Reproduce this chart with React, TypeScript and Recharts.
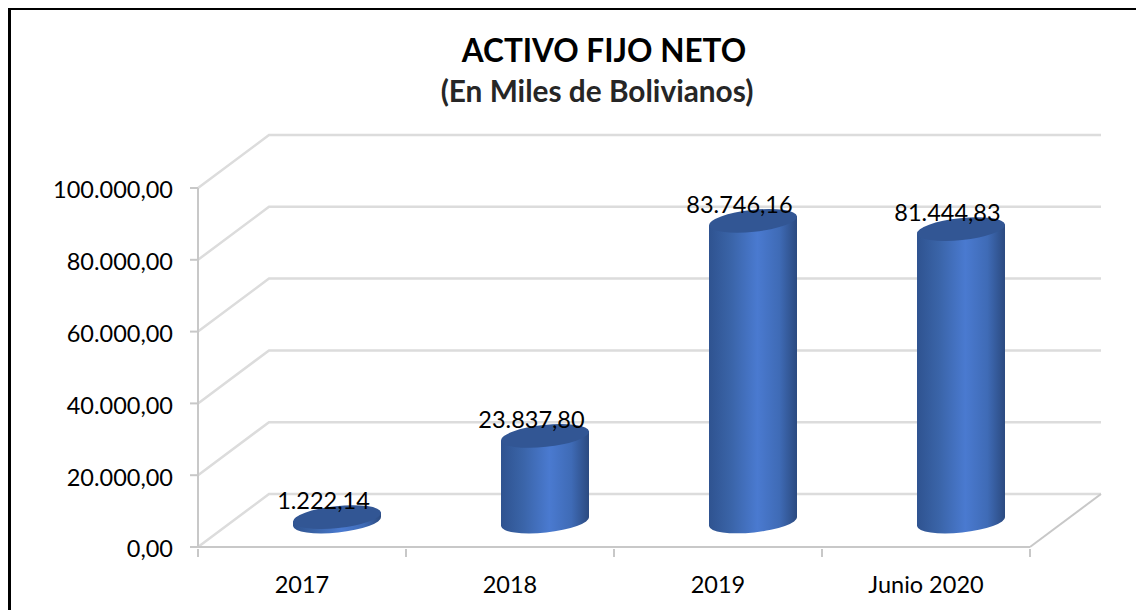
import { ComposedChart, Bar, XAxis, YAxis, CartesianGrid, LabelList } from 'recharts';

const categories = ['2017', '2018', '2019', 'Junio 2020'];
const values = [1222.14, 23837.8, 83746.16, 81444.83];
const valueLabels = ['1.222,14', '23.837,80', '83.746,16', '81.444,83'];
const yTicks = [0, 20000, 40000, 60000, 80000, 100000];
const yTickLabels = ['0,00', '20.000,00', '40.000,00', '60.000,00', '80.000,00', '100.000,00'];

const data = categories.map((name, i) => ({ name, value: values[i], label: valueLabels[i] }));

const FONT = 'Lato, sans-serif';
// fake 3d: depth of the floor, bars stand halfway into it
const DEPTH_X = 71;
const DEPTH_Y = 53;
const BAR_DX = 35;
const BAR_DY = 25.5;
const TILT = 6;
const GRID = '#dcdcdc';
const AXIS = '#c8c8c8';
const SLOT = 208;

function Cylinder(props: any) {
  const { x, y, width, height } = props;
  const left = x + BAR_DX;
  const right = left + width;
  const top = y - BAR_DY;
  const bottom = y + height - BAR_DY;
  const cx = left + width / 2;
  const tilt = (TILT * Math.PI) / 180;
  const rx = width / 2 / Math.cos(tilt);
  const ry = 11;
  const dy = (width / 2) * Math.tan(tilt);
  const body =
    `M${left},${top + dy} L${left},${bottom + dy} ` +
    `A${rx},${ry} ${-TILT} 0 0 ${right},${bottom - dy} ` +
    `L${right},${top - dy} Z`;
  return (
    <g>
      <path d={body} fill="url(#cylinderSide)" />
      <ellipse cx={cx} cy={top} rx={rx} ry={ry} fill="#325694" transform={`rotate(${-TILT} ${cx} ${top})`} />
    </g>
  );
}

function GridLine(props: any) {
  const { x1, x2, y1 } = props;
  const isFloor = y1 > 540;
  return (
    <g fill="none" stroke={GRID} strokeWidth={2.5}>
      <path d={`M${x1},${y1} L${x1 + DEPTH_X},${y1 - DEPTH_Y} L${x2 + DEPTH_X},${y1 - DEPTH_Y}`} />
      {isFloor && <path d={`M${x2},${y1} L${x2 + DEPTH_X},${y1 - DEPTH_Y}`} stroke={AXIS} strokeWidth={2} />}
    </g>
  );
}

// tick marks sit on the slot edges, not under the labels
function CategoryTick(props: any) {
  const { x, y, payload, index } = props;
  const last = index === categories.length - 1;
  return (
    <g>
      <line x1={x - SLOT / 2} x2={x - SLOT / 2} y1={y} y2={y + 8} stroke={AXIS} strokeWidth={2} />
      {last && <line x1={x + SLOT / 2} x2={x + SLOT / 2} y1={y} y2={y + 8} stroke={AXIS} strokeWidth={2} />}
      <text x={x} y={y + 44} textAnchor="middle" fontFamily={FONT} fontSize={23.5} fill="#000">
        {payload.value}
      </text>
    </g>
  );
}

function ValueLabel(props: any) {
  const { x, y, width, value } = props;
  return (
    <text x={x + BAR_DX + width / 2 - 13.5} y={y - BAR_DY - 8} textAnchor="middle" fontFamily={FONT} fontSize={23.5} fill="#000">
      {value}
    </text>
  );
}

export default function App() {
  return (
    <div style={{ position: 'absolute', left: 0, top: 0, width: 1136, height: 610, background: '#fff', overflow: 'hidden' }}>
      <div style={{ position: 'absolute', left: 8, top: 8, width: 1140, height: 620, borderLeft: '3px solid #000', borderTop: '2px solid #000', boxSizing: 'border-box' }} />
      <div style={{ position: 'absolute', left: 0, width: 1208, top: 30, textAlign: 'center', fontFamily: FONT, fontWeight: 700, fontSize: 31.5, color: '#000', lineHeight: '40px' }}>
        ACTIVO FIJO NETO
      </div>
      <div style={{ position: 'absolute', left: 0, width: 1194, top: 73, textAlign: 'center', fontFamily: FONT, fontWeight: 700, fontSize: 29.8, color: '#262626', lineHeight: '36px' }}>
        (En Miles de Bolivianos)
      </div>
      <ComposedChart
        width={1136}
        height={610}
        data={data}
        margin={{ top: 188, right: 106, bottom: 0, left: 0 }}
        style={{ position: 'absolute', left: 0, top: 0 }}
      >
        <defs>
          <linearGradient id="cylinderSide" x1="0" y1="0" x2="1" y2="0">
            <stop offset="0%" stopColor="#2f5390" />
            <stop offset="25%" stopColor="#3a64a8" />
            <stop offset="55%" stopColor="#4a7ad0" />
            <stop offset="80%" stopColor="#3f6bb6" />
            <stop offset="100%" stopColor="#2b4a80" />
          </linearGradient>
        </defs>
        <CartesianGrid vertical={false} horizontal={GridLine as any} />
        <XAxis
          dataKey="name"
          interval={0}
          height={63}
          stroke={AXIS}
          strokeWidth={2}
          tickLine={false}
          tickSize={0}
          tick={CategoryTick as any}
        />
        <YAxis
          type="number"
          domain={[0, 100000]}
          ticks={yTicks}
          width={198}
          stroke={AXIS}
          strokeWidth={2}
          tickSize={8}
          tickMargin={17}
          tick={{ fill: '#000', fontFamily: FONT, fontSize: 23.5, dy: 2 }}
          tickFormatter={(v: number) => yTickLabels[yTicks.indexOf(v)]}
        />
        <Bar dataKey="value" barSize={88} shape={Cylinder as any} isAnimationActive={false}>
          <LabelList dataKey="label" content={ValueLabel as any} />
        </Bar>
      </ComposedChart>
    </div>
  );
}
